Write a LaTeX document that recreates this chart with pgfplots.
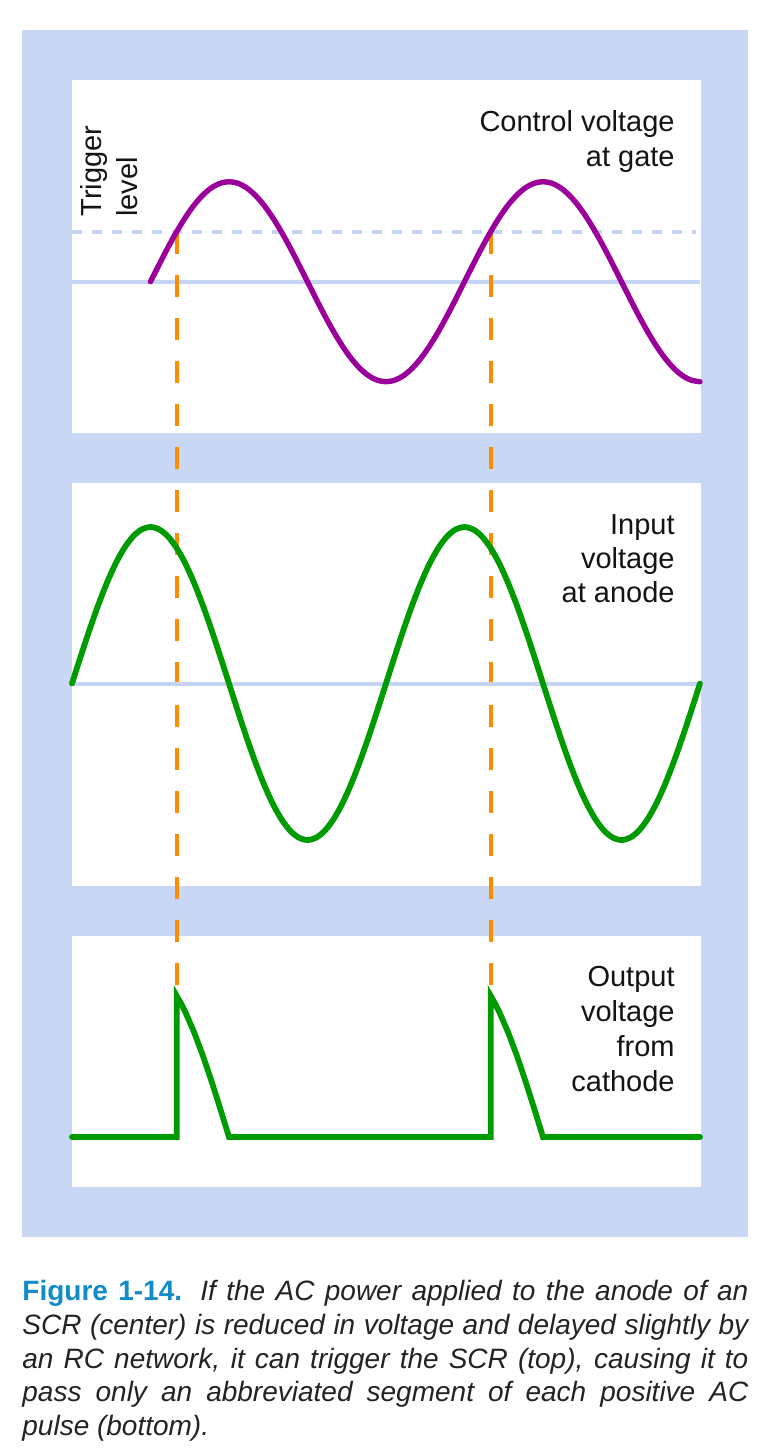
\documentclass[border=0pt]{standalone}
\usepackage{pgfplots}
\pgfplotsset{compat=1.18}
\usepackage{fontspec}
\setmainfont{Liberation Sans}
\definecolor{bgblue}{RGB}{200,215,243}
\definecolor{lineblue}{RGB}{197,212,244}
\definecolor{purp}{RGB}{155,0,155}
\definecolor{grn}{RGB}{0,155,0}
\definecolor{orng}{RGB}{255,140,0}
\definecolor{capblue}{RGB}{18,140,200}
\definecolor{captext}{RGB}{35,35,35}
\definecolor{labtext}{RGB}{20,20,20}
\pgfplotsset{panel/.style={scale only axis, hide axis, clip=false,
  xmin=0, xmax=720, width=314pt, anchor=north west}}
\newcommand{\lab}{\fontsize{14.5pt}{17.5pt}\selectfont}
\begin{document}
\begin{tikzpicture}
\useasboundingbox[fill=white] (0pt,0pt) rectangle (387.5pt,-726.5pt);
% backgrounds
\fill[bgblue] (11pt,-15pt) rectangle (374pt,-618.5pt);
\fill[white] (35.85pt,-40pt) rectangle (350.5pt,-216.25pt);
\fill[white] (35.85pt,-241.5pt) rectangle (350.5pt,-443pt);
\fill[white] (35.85pt,-468pt) rectangle (350.5pt,-593.5pt);

% ---- Panel 1: control voltage at gate
\begin{axis}[panel, at={(36pt,-40pt)}, height=176.25pt, ymin=-1.508, ymax=2.017]
\addplot[lineblue, line width=2pt] coordinates {(0,0) (720,0)};
\addplot[lineblue, line width=2pt, dash pattern=on 5pt off 5pt] coordinates {(0,0.5) (716,0.5)};
\addplot[orng, line width=2pt, dash pattern=on 11pt off 10.5pt] coordinates {(120,0.5) (120,-7.09)};
\addplot[orng, line width=2pt, dash pattern=on 11pt off 10.5pt] coordinates {(480,0.5) (480,-7.09)};
\addplot[purp, line width=2.7pt, line cap=round, smooth] coordinates {
(90,0) (100,0.1736) (110,0.3420) (120,0.5) (130,0.6428) (140,0.7660) (150,0.8660) (160,0.9397) (170,0.9848) (180,1)
(190,0.9848) (200,0.9397) (210,0.8660) (220,0.7660) (230,0.6428) (240,0.5) (250,0.3420) (260,0.1736) (270,0)
(280,-0.1736) (290,-0.3420) (300,-0.5) (310,-0.6428) (320,-0.7660) (330,-0.8660) (340,-0.9397) (350,-0.9848) (360,-1)
(370,-0.9848) (380,-0.9397) (390,-0.8660) (400,-0.7660) (410,-0.6428) (420,-0.5) (430,-0.3420) (440,-0.1736) (450,0)
(460,0.1736) (470,0.3420) (480,0.5) (490,0.6428) (500,0.7660) (510,0.8660) (520,0.9397) (530,0.9848) (540,1)
(550,0.9848) (560,0.9397) (570,0.8660) (580,0.7660) (590,0.6428) (600,0.5) (610,0.3420) (620,0.1736) (630,0)
(640,-0.1736) (650,-0.3420) (660,-0.5) (670,-0.6428) (680,-0.7660) (690,-0.8660) (700,-0.9397) (710,-0.9848) (720,-1)};
\end{axis}

% ---- Panel 2: input voltage at anode
\begin{axis}[panel, at={(36pt,-241.5pt)}, height=201.5pt, ymin=-1.2939, ymax=1.2812]
\addplot[lineblue, line width=2pt] coordinates {(0,0) (720,0)};
\addplot[grn, line width=2.9pt, line cap=round, smooth] coordinates {
(0,0) (10,0.1736) (20,0.3420) (30,0.5) (40,0.6428) (50,0.7660) (60,0.8660) (70,0.9397) (80,0.9848) (90,1)
(100,0.9848) (110,0.9397) (120,0.8660) (130,0.7660) (140,0.6428) (150,0.5) (160,0.3420) (170,0.1736) (180,0)
(190,-0.1736) (200,-0.3420) (210,-0.5) (220,-0.6428) (230,-0.7660) (240,-0.8660) (250,-0.9397) (260,-0.9848) (270,-1)
(280,-0.9848) (290,-0.9397) (300,-0.8660) (310,-0.7660) (320,-0.6428) (330,-0.5) (340,-0.3420) (350,-0.1736) (360,0)
(370,0.1736) (380,0.3420) (390,0.5) (400,0.6428) (410,0.7660) (420,0.8660) (430,0.9397) (440,0.9848) (450,1)
(460,0.9848) (470,0.9397) (480,0.8660) (490,0.7660) (500,0.6428) (510,0.5) (520,0.3420) (530,0.1736) (540,0)
(550,-0.1736) (560,-0.3420) (570,-0.5) (580,-0.6428) (590,-0.7660) (600,-0.8660) (610,-0.9397) (620,-0.9848) (630,-1)
(640,-0.9848) (650,-0.9397) (660,-0.8660) (670,-0.7660) (680,-0.6428) (690,-0.5) (700,-0.3420) (710,-0.1736) (720,0)};
\end{axis}

% ---- Panel 3: output voltage from cathode
\begin{axis}[panel, at={(36pt,-468pt)}, height=125.5pt, ymin=-0.3067, ymax=1.2331]
\addplot[grn, line width=2.9pt, line cap=round, line join=miter, sharp plot] coordinates {
(0,0) (120,0) (120,0.8660) (125,0.8192) (130,0.7660) (140,0.6428) (150,0.5) (160,0.3420) (170,0.1736) (180,0)
(480,0) (480,0.8660) (485,0.8192) (490,0.7660) (500,0.6428) (510,0.5) (520,0.3420) (530,0.1736) (540,0) (720,0)};
\end{axis}

% labels
\begin{scope}[every node/.style={inner sep=0pt, text=labtext, font=\lab}]
\node[anchor=base east] at (337.5pt,-65.5pt) {Control voltage};
\node[anchor=base east] at (337.5pt,-83pt) {at gate};
\node[anchor=base east] at (337.5pt,-267pt) {Input};
\node[anchor=base east] at (337.5pt,-284pt) {voltage};
\node[anchor=base east] at (337.5pt,-301pt) {at anode};
\node[anchor=base east] at (337.5pt,-493pt) {Output};
\node[anchor=base east] at (337.5pt,-510.5pt) {voltage};
\node[anchor=base east] at (337.5pt,-528pt) {from};
\node[anchor=base east] at (337.5pt,-545.5pt) {cathode};
\node[anchor=base west, rotate=90] at (50.5pt,-108.5pt) {Trigger};
\node[anchor=base west, rotate=90] at (68.5pt,-108.5pt) {level};
\end{scope}

% caption
\begin{scope}[every node/.style={inner sep=0pt, anchor=base west, text=captext, font=\fontsize{14pt}{17pt}\selectfont}]
\node at (11pt,-650pt) {\makebox[363pt][s]{\textbf{\textcolor{capblue}{Figure 1-14.}} \itshape If the AC power applied to the anode of an}};
\node at (11pt,-667pt) {\makebox[363pt][s]{\itshape SCR (center) is reduced in voltage and delayed slightly by}};
\node at (11pt,-684pt) {\makebox[363pt][s]{\itshape an RC network, it can trigger the SCR (top), causing it to}};
\node at (11pt,-700.5pt) {\makebox[363pt][s]{\itshape pass only an abbreviated segment of each positive AC}};
\node at (11pt,-717.5pt) {\itshape pulse (bottom).};
\end{scope}
\end{tikzpicture}
\end{document}
